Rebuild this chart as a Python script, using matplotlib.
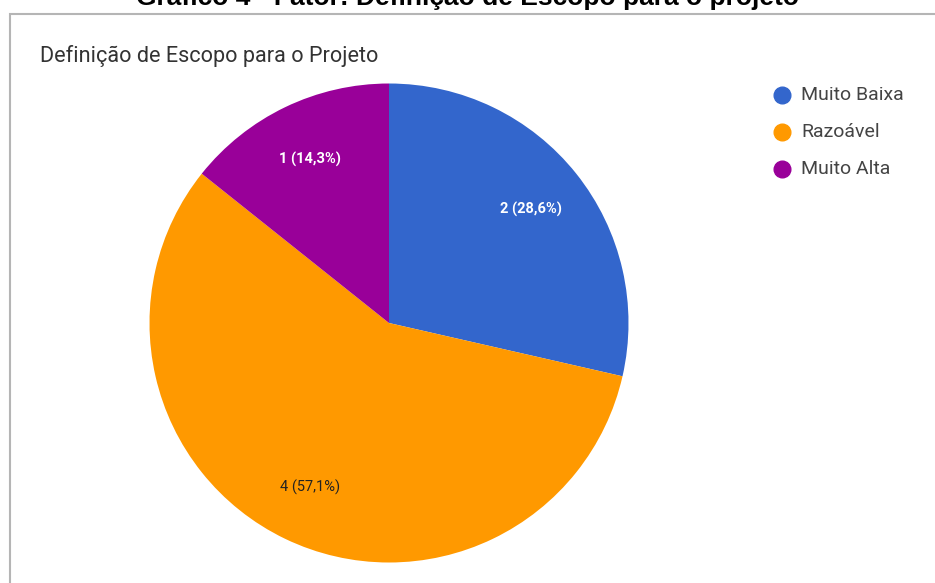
import matplotlib.pyplot as plt
from matplotlib.patches import Rectangle
from matplotlib.lines import Line2D

categories = ['Muito Baixa', 'Razoável', 'Muito Alta']
counts = [2, 4, 1]
colors = ['#3366CC', '#FF9900', '#990099']
label_colors = ['white', '#222222', 'white']

W, H = 935, 583
fig = plt.figure(figsize=(W / 100, H / 100), dpi=100)

# document caption (partly cut off at the top)
fig.text(467 / W, 1 - 5 / H, 'Gráfico 4 - Fator: Definição de Escopo para o projeto',
         ha='center', va='baseline', fontsize=19, fontweight='bold',
         family='Liberation Sans', color='black')

# chart frame
fig.patches.append(Rectangle((10 / W, -0.1), 1.2, 1 - 13.5 / H + 0.1, transform=fig.transFigure,
                             fill=False, edgecolor='#b5b5b5', linewidth=1.5))

fig.text(40 / W, 1 - 62 / H, 'Definição de Escopo para o Projeto',
         ha='left', va='baseline', fontsize=15.6, family='Roboto', color='#333333')

# pie, 12 o'clock start, clockwise
cx, cy, r = 389, 323, 239.5
ax = fig.add_axes([(cx - r) / W, (H - cy - r) / H, 2 * r / W, 2 * r / H])
total = sum(counts)
wedges, texts, autotexts = ax.pie(
    counts, colors=colors, startangle=90, counterclock=False, radius=1,
    autopct=lambda p: f'{round(p * total / 100)} ({p:.1f}%)'.replace('.', ','),
    pctdistance=0.76, wedgeprops=dict(linewidth=0))
for t, c in zip(autotexts, label_colors):
    t.set_color(c)
    t.set_fontsize(10.5)
    t.set_family('Roboto')
    if c == 'white':
        t.set_fontweight('bold')
ax.set_xlim(-1, 1)
ax.set_ylim(-1, 1)
ax.set_aspect('equal')
ax.axis('off')

# legend
for i, (name, col) in enumerate(zip(categories, colors)):
    y = 1 - (95 + 37 * i) / H
    fig.add_artist(Line2D([782 / W], [y], marker='o', markersize=12, color=col,
                          transform=fig.transFigure))
    fig.text(801 / W, y, name, ha='left', va='center', fontsize=14,
             family='Roboto', color='#444444')

fig.savefig('out.png', dpi=100)
